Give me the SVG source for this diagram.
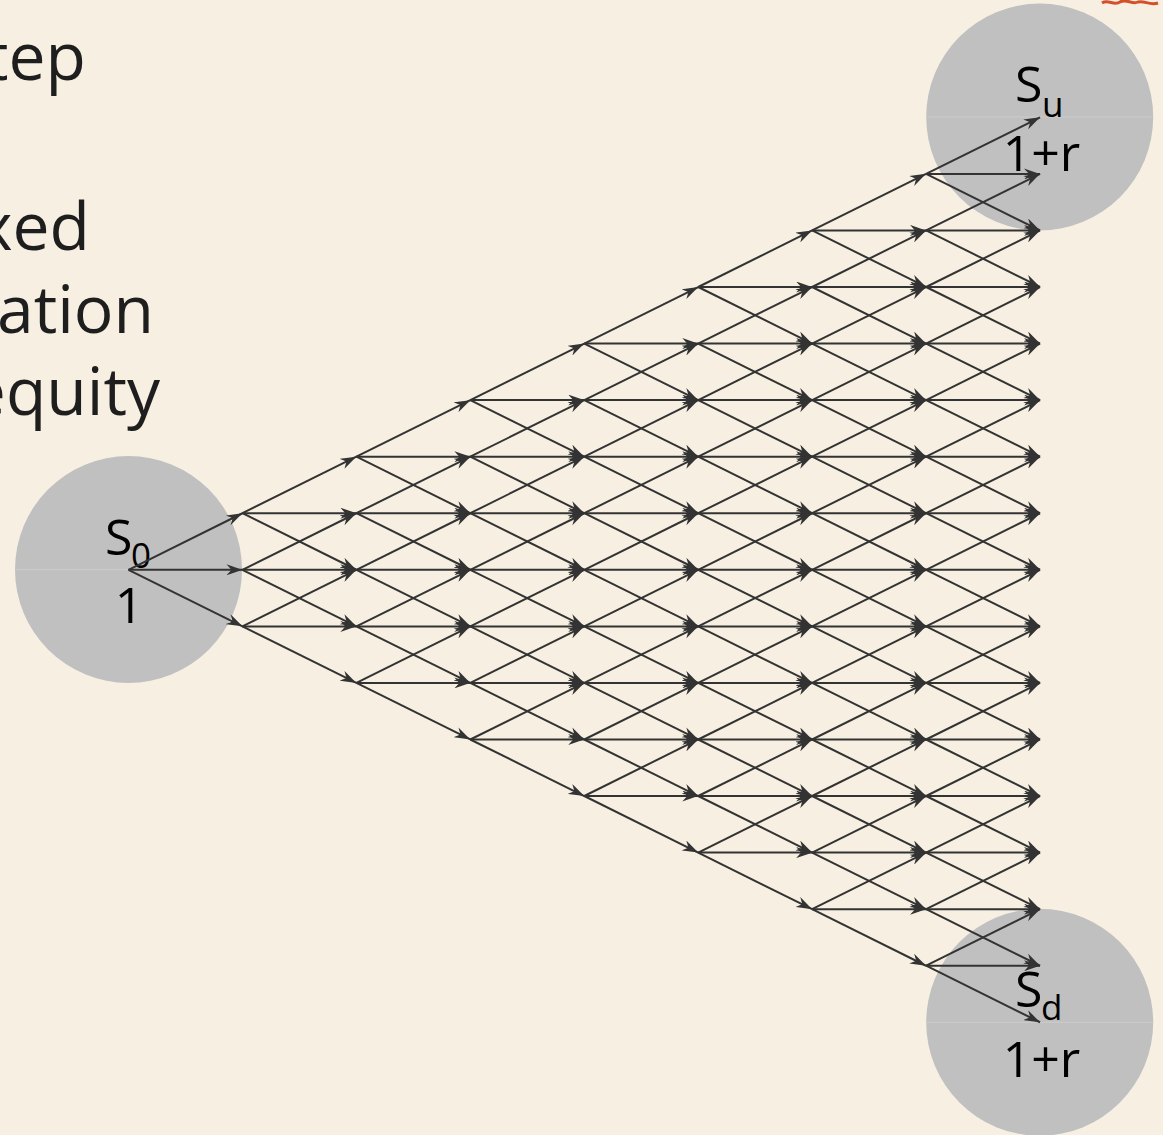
<svg xmlns="http://www.w3.org/2000/svg" xmlns:xlink="http://www.w3.org/1999/xlink" width="1163" height="1135" viewBox="0 0 1163 1135">
<style>
.bg{fill:#f7f0e2}
.side{font-family:"Open Sans","Noto Sans",sans-serif;font-size:66px;fill:#1e1e1e;text-anchor:end}
.node circle{fill:#c0c0c0}
.node line{stroke:#cccccc;stroke-width:1}
.lbl{font-family:"Open Sans","Noto Sans",sans-serif;font-size:50px;fill:#000}
.sub{font-size:35px}
.mid{text-anchor:middle}
.edge line{stroke:#333333;stroke-width:2;marker-end:url(#arr)}
</style>
<defs>
<marker id="arr" markerUnits="userSpaceOnUse" viewBox="0 0 16 11" refX="16" refY="5.5" markerWidth="16" markerHeight="11" orient="auto">
<path d="M0,0 L16,5.5 L0,11 L5,5.5 Z" fill="#333333"/>
</marker>
<g id="fan" class="edge">
<line x1="0" y1="0" x2="113.94" y2="-56.56"/>
<line x1="0" y1="0" x2="113.94" y2="0"/>
<line x1="0" y1="0" x2="113.94" y2="56.56"/>
</g>
</defs>
<rect class="bg" x="0" y="0" width="1163" height="1135"/>
<g id="side-text">
<text class="side" x="86" y="80">tep</text>
<text class="side" x="90" y="250">xed</text>
<text class="side" x="154" y="333">ation</text>
<text class="side" x="160" y="415">equity</text>
</g>
<path d="M1102,3 C1108,-1 1114,6 1120,2 C1126,-2 1132,5 1138,2 C1144,0 1150,6 1158,3" fill="none" stroke="#d4502a" stroke-width="3"/>
<g id="node-s0" class="node">
<circle cx="128.5" cy="569.5" r="113.5"/>
<line x1="15" y1="569.5" x2="242" y2="569.5"/>
<text class="lbl"><tspan x="105" y="555">S</tspan><tspan class="sub" x="131" y="568">0</tspan></text>
<text class="lbl mid" x="129" y="623">1</text>
</g>
<g id="node-su" class="node">
<circle cx="1039.7" cy="117" r="113.5"/>
<line x1="926.2" y1="117" x2="1153.2" y2="117"/>
<text class="lbl"><tspan x="1015" y="102">S</tspan><tspan class="sub" x="1042" y="117">u</tspan></text>
<text class="lbl mid" x="1041.5" y="171">1+r</text>
</g>
<g id="node-sd" class="node">
<circle cx="1039.7" cy="1022.3" r="113.5"/>
<line x1="926.2" y1="1022.3" x2="1153.2" y2="1022.3"/>
<text class="lbl"><tspan x="1015" y="1007">S</tspan><tspan class="sub" x="1041" y="1020">d</tspan></text>
<text class="lbl mid" x="1041.5" y="1077">1+r</text>
</g>
<g id="connectors">
<use xlink:href="#fan" x="128.5" y="569.8"/>
<use xlink:href="#fan" x="242.4" y="513.2"/>
<use xlink:href="#fan" x="242.4" y="569.8"/>
<use xlink:href="#fan" x="242.4" y="626.4"/>
<use xlink:href="#fan" x="356.4" y="456.7"/>
<use xlink:href="#fan" x="356.4" y="513.2"/>
<use xlink:href="#fan" x="356.4" y="569.8"/>
<use xlink:href="#fan" x="356.4" y="626.4"/>
<use xlink:href="#fan" x="356.4" y="682.9"/>
<use xlink:href="#fan" x="470.3" y="400.1"/>
<use xlink:href="#fan" x="470.3" y="456.7"/>
<use xlink:href="#fan" x="470.3" y="513.2"/>
<use xlink:href="#fan" x="470.3" y="569.8"/>
<use xlink:href="#fan" x="470.3" y="626.4"/>
<use xlink:href="#fan" x="470.3" y="682.9"/>
<use xlink:href="#fan" x="470.3" y="739.5"/>
<use xlink:href="#fan" x="584.3" y="343.6"/>
<use xlink:href="#fan" x="584.3" y="400.1"/>
<use xlink:href="#fan" x="584.3" y="456.7"/>
<use xlink:href="#fan" x="584.3" y="513.2"/>
<use xlink:href="#fan" x="584.3" y="569.8"/>
<use xlink:href="#fan" x="584.3" y="626.4"/>
<use xlink:href="#fan" x="584.3" y="682.9"/>
<use xlink:href="#fan" x="584.3" y="739.5"/>
<use xlink:href="#fan" x="584.3" y="796.0"/>
<use xlink:href="#fan" x="698.2" y="287.0"/>
<use xlink:href="#fan" x="698.2" y="343.6"/>
<use xlink:href="#fan" x="698.2" y="400.1"/>
<use xlink:href="#fan" x="698.2" y="456.7"/>
<use xlink:href="#fan" x="698.2" y="513.2"/>
<use xlink:href="#fan" x="698.2" y="569.8"/>
<use xlink:href="#fan" x="698.2" y="626.4"/>
<use xlink:href="#fan" x="698.2" y="682.9"/>
<use xlink:href="#fan" x="698.2" y="739.5"/>
<use xlink:href="#fan" x="698.2" y="796.0"/>
<use xlink:href="#fan" x="698.2" y="852.6"/>
<use xlink:href="#fan" x="812.1" y="230.4"/>
<use xlink:href="#fan" x="812.1" y="287.0"/>
<use xlink:href="#fan" x="812.1" y="343.6"/>
<use xlink:href="#fan" x="812.1" y="400.1"/>
<use xlink:href="#fan" x="812.1" y="456.7"/>
<use xlink:href="#fan" x="812.1" y="513.2"/>
<use xlink:href="#fan" x="812.1" y="569.8"/>
<use xlink:href="#fan" x="812.1" y="626.4"/>
<use xlink:href="#fan" x="812.1" y="682.9"/>
<use xlink:href="#fan" x="812.1" y="739.5"/>
<use xlink:href="#fan" x="812.1" y="796.0"/>
<use xlink:href="#fan" x="812.1" y="852.6"/>
<use xlink:href="#fan" x="812.1" y="909.2"/>
<use xlink:href="#fan" x="926.1" y="173.9"/>
<use xlink:href="#fan" x="926.1" y="230.4"/>
<use xlink:href="#fan" x="926.1" y="287.0"/>
<use xlink:href="#fan" x="926.1" y="343.6"/>
<use xlink:href="#fan" x="926.1" y="400.1"/>
<use xlink:href="#fan" x="926.1" y="456.7"/>
<use xlink:href="#fan" x="926.1" y="513.2"/>
<use xlink:href="#fan" x="926.1" y="569.8"/>
<use xlink:href="#fan" x="926.1" y="626.4"/>
<use xlink:href="#fan" x="926.1" y="682.9"/>
<use xlink:href="#fan" x="926.1" y="739.5"/>
<use xlink:href="#fan" x="926.1" y="796.0"/>
<use xlink:href="#fan" x="926.1" y="852.6"/>
<use xlink:href="#fan" x="926.1" y="909.2"/>
<use xlink:href="#fan" x="926.1" y="965.7"/>
</g>
</svg>
